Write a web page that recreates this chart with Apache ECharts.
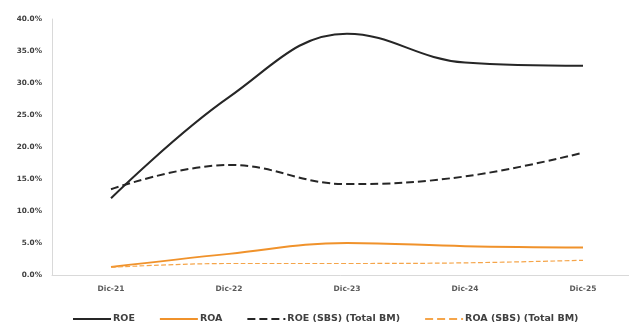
<!DOCTYPE html>
<html><head><meta charset="utf-8">
<script src="https://cdn.jsdelivr.net/npm/echarts@6/dist/echarts.min.js"></script>
<style>html,body{margin:0;padding:0;background:#fff}#c{width:629px;height:326px}</style>
</head><body><div id="c"></div>
<script>
const categories = ['Dic-21','Dic-22','Dic-23','Dic-24','Dic-25'];
const roe = [12.0, 27.8, 37.7, 33.2, 32.7];
const roa = [1.25, 3.3, 5.0, 4.5, 4.3];
const roeSbs = [13.4, 17.2, 14.2, 15.4, 19.1];
const roaSbs = [1.2, 1.8, 1.8, 1.9, 2.3];
const seriesNames = ['ROE','ROA','ROE (SBS) (Total BM)','ROA (SBS) (Total BM)'];

const font = {fontFamily:'DejaVu Sans, sans-serif', fontWeight:'bold', color:'#404040'};
const chart = echarts.init(document.getElementById('c'), null, {renderer:'canvas'});
function s(name, data, color, type, width){
  return {name, type:'line', data, smooth:0.4, symbol:'none', legendIcon:'none',
    lineStyle:{color, width, type}, itemStyle:{color}};
}
chart.setOption({
  animation:false,
  grid:{left:52, width:590, top:19, bottom:51, outerBoundsMode:'none', containLabel:false},
  legend:{top:309, left:67, itemWidth:38, itemHeight:10, itemGap:24,
    itemStyle:{opacity:0},
    textStyle:Object.assign({fontSize:9.5, padding:[0,0,0,-3]}, font),
    data:seriesNames},
  xAxis:{type:'category', data:categories, boundaryGap:true,
    axisLine:{lineStyle:{color:'#d9d9d9'}}, axisTick:{show:false},
    axisLabel:Object.assign({fontSize:7.5, margin:10}, font, {color:'#595959'})},
  yAxis:{type:'value', min:0, max:40, interval:5,
    axisLine:{show:true, lineStyle:{color:'#d9d9d9'}}, splitLine:{show:false}, axisTick:{show:false},
    axisLabel:Object.assign({fontSize:7.3, margin:10, formatter:v=>v.toFixed(1)+'%'}, font)},
  series:[
    s(seriesNames[0], roe, '#262626', 'solid', 2),
    s(seriesNames[1], roa, '#F0922B', 'solid', 2),
    s(seriesNames[2], roeSbs, '#262626', 'dashed', 2),
    s(seriesNames[3], roaSbs, '#F5A54A', 'dashed', 1.2)
  ]
});
</script></body></html>
